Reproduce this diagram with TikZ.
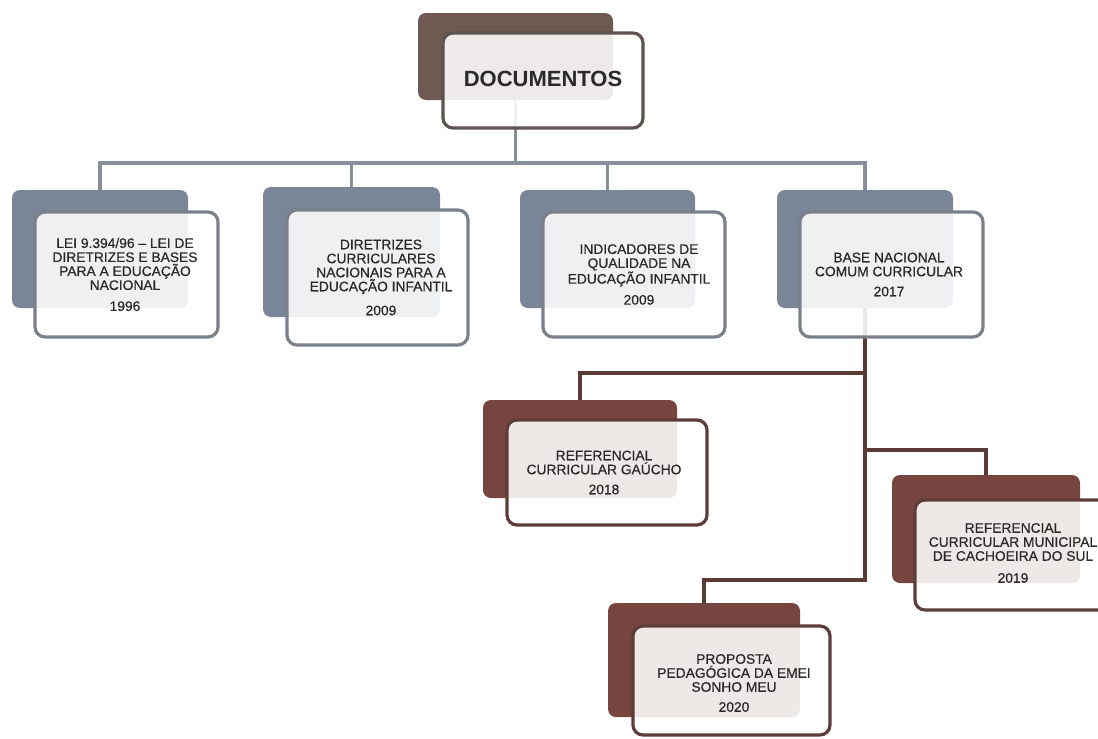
\documentclass[tikz,border=0pt]{standalone}
\usepackage{fontspec}
\setmainfont{Liberation Sans}
\newfontfamily\lblfont[FakeBold=0.6]{Liberation Sans}
\usetikzlibrary{backgrounds}
\definecolor{docback}{HTML}{6E5A52}
\definecolor{docborder}{HTML}{5D5350}
\definecolor{blueback}{HTML}{7A8597}
\definecolor{blueborder}{HTML}{7B818A}
\definecolor{blueline}{HTML}{87909A}
\definecolor{brownback}{HTML}{774540}
\definecolor{brownborder}{HTML}{5E3D39}
\definecolor{brownline}{HTML}{5C3B36}
\definecolor{txt}{HTML}{2A2A2A}
\begin{document}
\begin{tikzpicture}[x=1pt,y=-1pt,
  backbox/.style={rectangle, rounded corners=8pt, inner sep=0pt, outer sep=0pt, draw=none},
  frontbox/.style={rectangle, rounded corners=10pt, inner sep=0pt, outer sep=0pt, line width=3.2pt, fill=white, fill opacity=0.88, draw opacity=1},
  label/.style={align=center, text=txt, inner sep=0pt, font=\lblfont\fontsize{13.8}{14}\selectfont},
  bluecon/.style={draw=blueline, line width=3.5pt, line join=miter},
  browncon/.style={draw=brownline, line width=3.5pt, line join=miter}]
\useasboundingbox (0,0) rectangle (1098,739);
\clip (0,0) rectangle (1098,739);

% top node
\node[backbox, fill=docback, minimum width=195, minimum height=87] (docb) at (515.5,56.5) {};
\node[frontbox, draw=docborder, minimum width=200, minimum height=95] (doc) at (543,80.5) {};
\node[align=center, text=txt, inner sep=0pt, font=\fontsize{22}{24}\bfseries\selectfont] (doct) at (543,79) {DOCUMENTOS};

% level 1
\node[backbox, fill=blueback, minimum width=176, minimum height=118] (b1b) at (100,249) {};
\node[frontbox, draw=blueborder, minimum width=183, minimum height=125] (b1) at (126.5,274.5) {};
\node[label] (t1) at (125,274.5) {LEI 9.394/96 – LEI DE\\DIRETRIZES E BASES\\PARA A EDUCAÇÃO\\NACIONAL\\[7pt]1996};

\node[backbox, fill=blueback, minimum width=177, minimum height=130] (b2b) at (351.5,252) {};
\node[frontbox, draw=blueborder, minimum width=181, minimum height=135] (b2) at (377.5,277.5) {};
\node[label] (t2) at (381,277.5) {DIRETRIZES\\CURRICULARES\\NACIONAIS PARA A\\EDUCAÇÃO INFANTIL\\[10pt]2009};

\node[backbox, fill=blueback, minimum width=175, minimum height=118] (b3b) at (607.5,249) {};
\node[frontbox, draw=blueborder, minimum width=182, minimum height=125] (b3) at (634,274.5) {};
\node[label] (t3) at (639,274.5) {INDICADORES DE\\QUALIDADE NA\\EDUCAÇÃO INFANTIL\\[7pt]2009};

\node[backbox, fill=blueback, minimum width=176, minimum height=118] (b4b) at (865,249) {};
\node[frontbox, draw=blueborder, minimum width=183, minimum height=125] (b4) at (891.5,274.5) {};
\node[label] (t4) at (889,274.5) {BASE NACIONAL\\COMUM CURRICULAR\\[6pt]2017};

% level 2
\node[backbox, fill=brownback, minimum width=194, minimum height=98] (b5b) at (580,449) {};
\node[frontbox, draw=brownborder, minimum width=200, minimum height=105] (b5) at (607,472.5) {};
\node[label] (t5) at (604,472.5) {REFERENCIAL\\CURRICULAR GAÚCHO\\[6pt]2018};

\node[backbox, fill=brownback, minimum width=188, minimum height=108] (b6b) at (986,529) {};
\node[frontbox, draw=brownborder, minimum width=200, minimum height=110] (b6) at (1015,555) {};
\node[label] (t6) at (1013,553) {REFERENCIAL\\CURRICULAR MUNICIPAL\\DE CACHOEIRA DO SUL\\[8pt]2019};

\node[backbox, fill=brownback, minimum width=192, minimum height=114] (b7b) at (704,660) {};
\node[frontbox, draw=brownborder, minimum width=197, minimum height=109] (b7) at (731.5,680.5) {};
\node[label] (t7) at (734,683) {PROPOSTA\\PEDAGÓGICA DA EMEI\\SONHO MEU\\[6pt]2020};

\coordinate (h1) at (0,163);
\coordinate (h2) at (0,373);
\coordinate (h3) at (0,450);
\coordinate (h4) at (0,580);

\begin{scope}[on background layer]
  \draw[bluecon] (docb.center) -- (docb.center |- h1);
  \draw[bluecon] (b1b.center) |- (b4b.center |- h1) -- (b4b.center);
  \draw[bluecon] (b2b.center) -- (b2b.center |- h1);
  \draw[bluecon] (b3b.center) -- (b3b.center |- h1);
  \draw[browncon] (b4b.center) -- (b4b.center |- h4) -| (b7b.center);
  \draw[browncon] (b4b.center |- h2) -| (b5b.center);
  \draw[browncon] (b4b.center |- h3) -| (b6b.center);
\end{scope}
\end{tikzpicture}
\end{document}
